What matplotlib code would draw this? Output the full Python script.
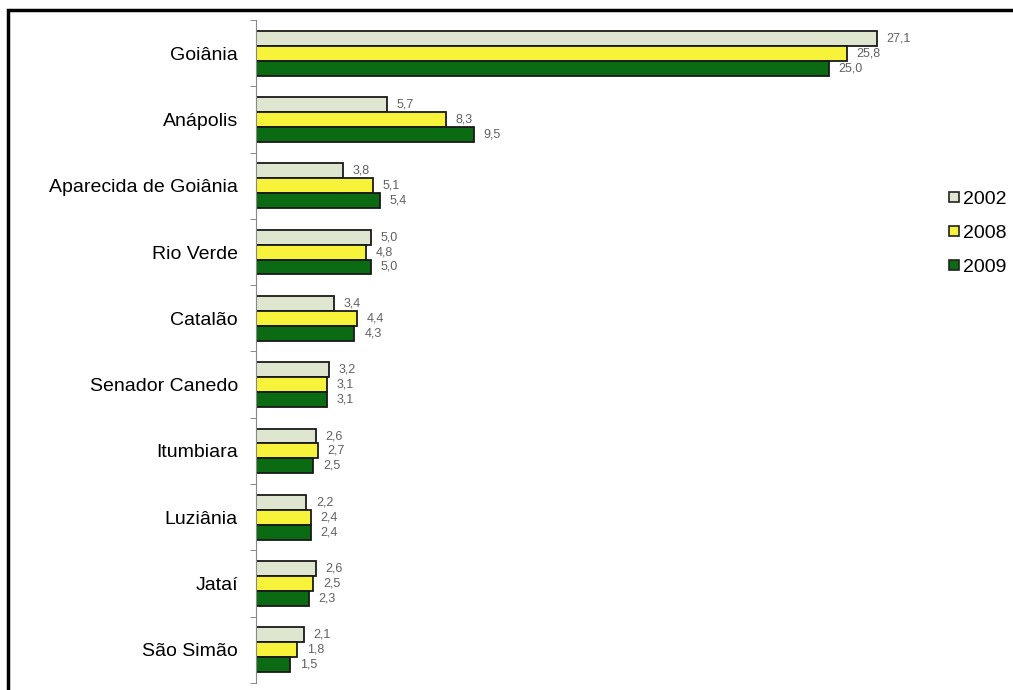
import numpy as np
import matplotlib
matplotlib.use("Agg")
import matplotlib.pyplot as plt
from matplotlib.lines import Line2D
from matplotlib.patches import Rectangle

# dados do grafico
cidades = ["Goiânia", "Anápolis", "Aparecida de Goiânia", "Rio Verde", "Catalão",
           "Senador Canedo", "Itumbiara", "Luziânia", "Jataí", "São Simão"]
anos = ["2002", "2008", "2009"]
v2002 = [27.1, 5.7, 3.8, 5.0, 3.4, 3.2, 2.6, 2.2, 2.6, 2.1]
v2008 = [25.8, 8.3, 5.1, 4.8, 4.4, 3.1, 2.7, 2.4, 2.5, 1.8]
v2009 = [25.0, 9.5, 5.4, 5.0, 4.3, 3.1, 2.5, 2.4, 2.3, 1.5]
cores = ["#dfe6cf", "#f7f23a", "#0b6b12"]

plt.rcParams['font.family'] = ['Liberation Sans', 'DejaVu Sans']

fig = plt.figure(figsize=(10.13, 6.90), dpi=100)
ax = fig.add_axes([256 / 1013, 7 / 690, 687 / 1013, 663 / 690])

y = np.arange(len(cidades))
h = 0.225
series = [v2002, v2008, v2009]
for i, vals in enumerate(series):
    pos = y + (i - 1) * h
    ax.barh(pos, vals, height=h, color=cores[i], edgecolor="#1a1a1a", linewidth=1.3)
    for p, v in zip(pos, vals):
        ax.annotate(f"{v:.1f}".replace(".", ","), (v, p), xytext=(7, 0),
                    textcoords="offset points", ha="left", va="center",
                    fontsize=9, color="#606060")

ax.set_xlim(0, 30)
ax.set_ylim(len(cidades) - 0.5, -0.5)
ax.set_yticks(y)
ax.set_yticklabels(cidades, fontsize=14)
ax.set_yticks(np.arange(-0.5, len(cidades)), minor=True)
ax.tick_params(axis="y", which="major", length=0, pad=13)
ax.tick_params(axis="y", which="minor", length=4, color="#777777")
ax.set_xticks([])
for s in ["top", "right", "bottom"]:
    ax.spines[s].set_visible(False)
ax.spines["left"].set_color("#888888")

handles = [Line2D([], [], marker="s", linestyle="none", markersize=7,
                  markerfacecolor=c, markeredgecolor="#222222", markeredgewidth=1.2)
           for c in cores]
fig.legend(handles, anos, loc="center left", bbox_to_anchor=(938 / 1013, 457 / 690),
           frameon=False, fontsize=14, handletextpad=0.1, handlelength=0.8,
           labelspacing=0.85, borderaxespad=0)

# moldura preta
fig.patches.append(Rectangle((8 / 1013, -0.02), 1.0, 0.02 + 680 / 690,
                             transform=fig.transFigure, fill=False,
                             edgecolor="black", linewidth=2.5))

fig.savefig("out.png", dpi=100, facecolor="white")
